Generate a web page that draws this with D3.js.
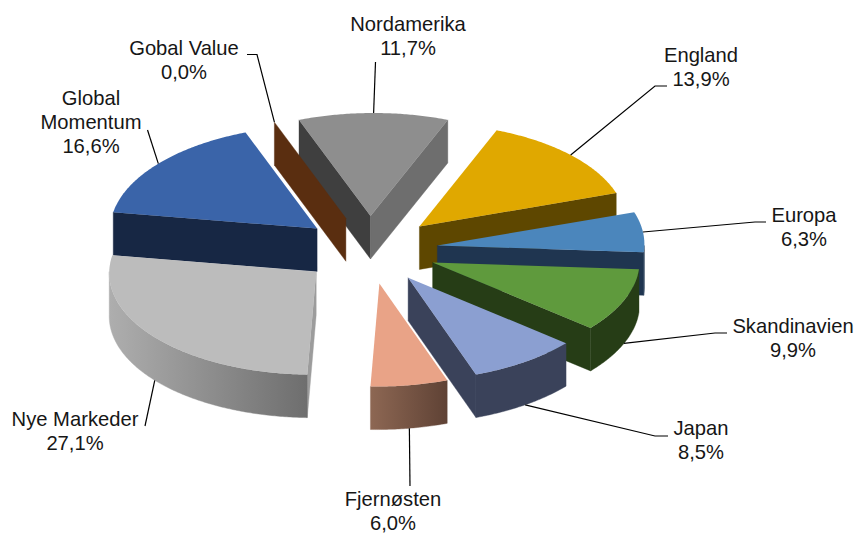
<!DOCTYPE html>
<html>
<head>
<meta charset="utf-8">
<script src="https://cdnjs.cloudflare.com/ajax/libs/d3/7.8.5/d3.min.js"></script>
<style>
    html, body { margin: 0; padding: 0; background: #fff; }
    svg { display: block; }
    text { font-family: "Liberation Sans", Arial, sans-serif; font-size: 20.2px; fill: #161616; text-anchor: middle; }
</style>
</head>
<body>
<svg id="chart" width="857" height="534"></svg>
<script>
// values, clockwise from the top
const names = ['Nordamerika', 'England', 'Europa', 'Skandinavien', 'Japan', 'Fjernøsten', 'Nye Markeder', 'Global Momentum', 'Gobal Value']
const shares = [11.7, 13.9, 6.3, 9.9, 8.5, 6.0, 27.1, 16.6, 0.0]
const shareLabels = ['11,7%', '13,9%', '6,3%', '9,9%', '8,5%', '6,0%', '27,1%', '16,6%', '0,0%']

const topColors = ['#8e8e8e', '#e0a800', '#4b86bc', '#5f9a3d', '#8b9fd1', '#e9a387', '#bcbcbc', '#3a64a9', '#5a2e10']
const startFaceColors = ['#3f3f3f', '#5e4700', '#1f3550', '#263d16', '#3a425a', '#6f4e40', '#9c9c9c', '#172744', '#5a2e10']
const endFaceColors = ['#6e6e6e', '#5e4700', '#1f3550', '#263d16', '#3a425a', '#6f4e40', '#9c9c9c', '#172744', '#5a2e10']
const wallLeft = ['#6e6e6e', '#5e4700', '#1f3550', '#263d16', '#3a425a', '#8d6753', '#aeaeae', '#172744', '#5a2e10']
const wallRight = ['#6e6e6e', '#5e4700', '#1f3550', '#263d16', '#3a425a', '#5f4235', '#6e6e6e', '#172744', '#5a2e10']

// label text: lines, centre x, first baseline
const labelLines = [['Nordamerika'], ['England'], ['Europa'], ['Skandinavien'], ['Japan'], ['Fjernøsten'], ['Nye Markeder'], ['Global', 'Momentum'], ['Gobal Value']]
const labelX = [408, 701, 804, 793, 701, 393, 75, 91, 184]
const labelY = [31, 62, 222, 333, 435, 506, 426, 105, 55]
// leader line, from the label side; the pie end is worked out from the slice
const leaderEnds = [
    [[375.5, 62]],
    [[667, 86], [655, 86]],
    [[766, 222], [755, 222]],
    [[727, 333], [715, 333]],
    [[668, 436], [655, 436]],
    [[410, 486]],
    [[145, 426]],
    [[147.5, 130]],
    [[247, 54.5], [257, 54.5]]
]

const lineHeight = 24
const drawOrder = [0, 8, 7, 1, 2, 3, 4, 5, 6]

const cx = 369.5, cy = 250, rx = 207, ry = 103, depth = 43
const explode = 0.33
const lean = -0.03
const firstAngle = -21.06 * Math.PI / 180

const svg = d3.select('#chart')
const defs = svg.append('defs')

const xScale = d3.scaleLinear().domain([-1, 1]).range([cx - rx, cx + rx])
const yScale = d3.scaleLinear().domain([-1, 1]).range([cy - ry, cy + ry])

const slices = d3.pie().sort(null).startAngle(firstAngle).endAngle(firstAngle + 2 * Math.PI)(shares)
const line = d3.line()

function project(slice, angle, r, down) {
    const mid = (slice.startAngle + slice.endAngle) / 2
    const u = r * Math.sin(angle) + explode * Math.sin(mid)
    const v = -r * Math.cos(angle) - explode * Math.cos(mid)
    return [xScale(u) + lean * ry * v, yScale(v) + (down ? depth : 0)]
}

function arcPoints(slice, a0, a1, down) {
    const steps = Math.max(1, Math.ceil((a1 - a0) / 0.01))
    return d3.range(steps + 1).map(i => project(slice, a0 + (a1 - a0) * i / steps, 1, down))
}

function radialFace(slice, angle) {
    return line([
        project(slice, angle, 0, false),
        project(slice, angle, 1, false),
        project(slice, angle, 1, true),
        project(slice, angle, 0, true)
    ]) + 'Z'
}

// front half of the rim is where cos(angle) is negative
function wallRange(slice) {
    const ranges = []
    for (let k = 0; k < 2; k++) {
        const lo = Math.PI / 2 + k * 2 * Math.PI
        const hi = 3 * Math.PI / 2 + k * 2 * Math.PI
        const a0 = Math.max(slice.startAngle, lo)
        const a1 = Math.min(slice.endAngle, hi)
        if (a1 > a0) ranges.push([a0, a1])
    }
    return ranges
}

drawOrder.forEach(i => {
    const s = slices[i]
    const g = svg.append('g').attr('class', 'slice')

    if (Math.sin(s.startAngle) < 0) {
        g.append('path').attr('d', radialFace(s, s.startAngle))
            .attr('fill', startFaceColors[i]).attr('stroke', startFaceColors[i]).attr('stroke-width', 0.4)
    }
    if (Math.sin(s.endAngle) > 0) {
        g.append('path').attr('d', radialFace(s, s.endAngle))
            .attr('fill', endFaceColors[i]).attr('stroke', endFaceColors[i]).attr('stroke-width', 0.4)
    }

    const grad = defs.append('linearGradient').attr('id', 'wall' + i)
    grad.append('stop').attr('offset', 0).attr('stop-color', wallLeft[i])
    grad.append('stop').attr('offset', 1).attr('stop-color', wallRight[i])

    wallRange(s).forEach(([a0, a1]) => {
        // outer wall: top rim forward, bottom rim back
        const pts = arcPoints(s, a0, a1, false).concat(arcPoints(s, a0, a1, true).reverse())
        g.append('path').attr('d', line(pts) + 'Z')
            .attr('fill', 'url(#wall' + i + ')').attr('stroke', 'url(#wall' + i + ')').attr('stroke-width', 0.4)
    })

    if (s.endAngle > s.startAngle) {
        const pts = [project(s, s.startAngle, 0, false)].concat(arcPoints(s, s.startAngle, s.endAngle, false))
        g.append('path').attr('d', line(pts) + 'Z').attr('fill', topColors[i])
    }
})

// leaders hit the slice rim at its middle angle, on the lower rim for front slices
slices.forEach((s, i) => {
    const mid = (s.startAngle + s.endAngle) / 2
    const anchor = project(s, mid, 1, Math.cos(mid) < 0)
    svg.append('path')
        .attr('d', line(leaderEnds[i].concat([anchor])))
        .attr('fill', 'none')
        .attr('stroke', '#000')
        .attr('stroke-width', 1.2)
})

names.forEach((name, i) => {
    const lines = labelLines[i].concat([shareLabels[i]])
    const t = svg.append('text').attr('x', labelX[i]).attr('y', labelY[i])
    lines.forEach((txt, j) => {
        t.append('tspan')
            .attr('x', labelX[i])
            .attr('y', labelY[i] + j * lineHeight)
            .text(txt)
    })
})
</script>
</body>
</html>
